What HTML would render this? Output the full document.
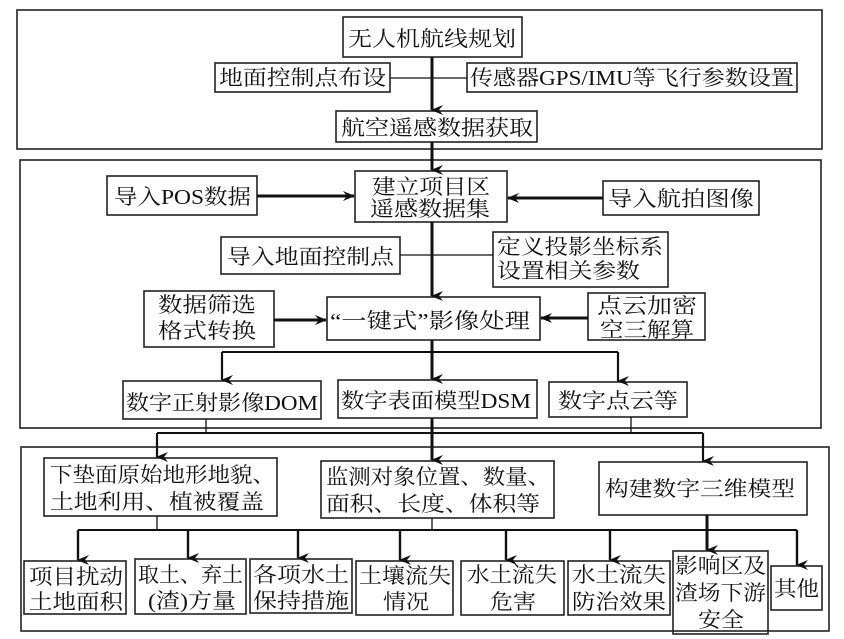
<!DOCTYPE html>
<html><head><meta charset="utf-8"><style>
html,body{margin:0;padding:0;background:#fff;}
svg{display:block;}
text{font-family:"Liberation Serif","Noto Serif CJK SC",serif;font-size:21px;fill:#111;}
</style></head><body>
<svg width="844" height="639" viewBox="0 0 844 639" xmlns="http://www.w3.org/2000/svg">
<defs>
<marker id="a" markerWidth="10" markerHeight="12" refX="5" refY="11" orient="auto" markerUnits="userSpaceOnUse" viewBox="0 0 10 12">
<path d="M0,0 L5,12 L10,0 L5,4 Z" fill="#111"/></marker>
<marker id="h" markerWidth="12" markerHeight="10" refX="11" refY="5" orient="auto" markerUnits="userSpaceOnUse" viewBox="0 0 12 10">
<path d="M0,0 L12,5 L0,10 L4,5 Z" fill="#111"/></marker>
</defs>
<g fill="none" stroke="#222" stroke-width="1.6">
<rect x="17" y="10" width="805" height="139"/>
<rect x="20" y="160" width="801" height="268"/>
<rect x="21" y="447" width="808" height="184"/>
<rect x="343" y="17" width="179" height="40"/>
<rect x="215" y="63" width="175" height="29"/>
<rect x="467" y="63" width="330" height="29"/>
<rect x="336" y="111" width="201" height="31"/>
<rect x="107" y="176" width="150" height="39"/>
<rect x="355" y="171" width="152" height="51"/>
<rect x="603" y="181" width="156" height="34"/>
<rect x="221" y="237" width="179" height="37"/>
<rect x="493" y="232" width="175" height="55"/>
<rect x="144" y="291" width="130" height="56"/>
<rect x="327" y="297" width="213" height="43"/>
<rect x="588" y="293" width="117" height="47"/>
<rect x="123" y="381" width="198" height="38"/>
<rect x="338" y="380" width="199" height="38"/>
<rect x="549" y="382" width="138" height="35"/>
<rect x="44" y="458" width="233" height="58"/>
<rect x="321" y="461" width="233" height="57"/>
<rect x="599" y="462" width="208" height="53"/>
<rect x="24" y="561" width="102" height="53"/>
<rect x="135" y="559" width="111" height="55"/>
<rect x="250" y="559" width="102" height="54"/>
<rect x="356" y="561" width="97" height="54"/>
<rect x="461" y="561" width="103" height="54"/>
<rect x="568" y="561" width="102" height="54"/>
<rect x="673" y="551" width="95" height="83"/>
<rect x="771" y="566" width="51" height="44"/>
</g>
<g stroke="#111" fill="none">
<line x1="390" y1="78" x2="467" y2="78" stroke-width="1.3"/>
<line x1="432" y1="57" x2="432" y2="110" stroke-width="3" marker-end="url(#a)"/>
<line x1="432" y1="142" x2="432" y2="170" stroke-width="3" marker-end="url(#a)"/>
<line x1="257" y1="196" x2="354" y2="196" stroke-width="3" marker-end="url(#h)"/>
<line x1="603" y1="198" x2="508" y2="198" stroke-width="3" marker-end="url(#h)"/>
<line x1="400" y1="255" x2="493" y2="255" stroke-width="1.3"/>
<line x1="432" y1="222" x2="432" y2="296" stroke-width="3" marker-end="url(#a)"/>
<line x1="274" y1="320" x2="326" y2="320" stroke-width="3" marker-end="url(#h)"/>
<line x1="588" y1="318" x2="541" y2="318" stroke-width="3" marker-end="url(#h)"/>
<line x1="432" y1="340" x2="432" y2="379" stroke-width="3" marker-end="url(#a)"/>
<line x1="222" y1="352" x2="618" y2="352" stroke-width="2"/>
<line x1="222" y1="352" x2="222" y2="380" stroke-width="2.2" marker-end="url(#a)"/>
<line x1="618" y1="352" x2="618" y2="381" stroke-width="2.2" marker-end="url(#a)"/>
<line x1="206" y1="419" x2="206" y2="433" stroke-width="1.3"/>
<line x1="631" y1="417" x2="631" y2="433" stroke-width="1.3"/>
<line x1="157" y1="433" x2="703" y2="433" stroke-width="2"/>
<line x1="157" y1="433" x2="157" y2="457" stroke-width="2.2" marker-end="url(#a)"/>
<line x1="432" y1="418" x2="432" y2="460" stroke-width="3" marker-end="url(#a)"/>
<line x1="703" y1="433" x2="703" y2="461" stroke-width="2.2" marker-end="url(#a)"/>
<line x1="157" y1="516" x2="157" y2="530" stroke-width="1.3"/>
<line x1="432" y1="518" x2="432" y2="530" stroke-width="1.3"/>
<line x1="707" y1="515" x2="707" y2="550" stroke-width="3" marker-end="url(#a)"/>
<line x1="78" y1="530" x2="797" y2="530" stroke-width="2"/>
<g stroke-width="2.4">
<line x1="78" y1="530" x2="78" y2="560" marker-end="url(#a)"/>
<line x1="188" y1="530" x2="188" y2="558" marker-end="url(#a)"/>
<line x1="298" y1="530" x2="298" y2="558" marker-end="url(#a)"/>
<line x1="400" y1="530" x2="400" y2="560" marker-end="url(#a)"/>
<line x1="506" y1="530" x2="506" y2="560" marker-end="url(#a)"/>
<line x1="610" y1="530" x2="610" y2="560" marker-end="url(#a)"/>
<line x1="797" y1="530" x2="797" y2="565" marker-end="url(#a)"/>
</g>
</g>
<g lengthAdjust="spacingAndGlyphs">
<text x="348" y="46" textLength="168" lengthAdjust="spacingAndGlyphs">无人机航线规划</text>
<text x="219" y="85" textLength="167" lengthAdjust="spacingAndGlyphs">地面控制点布设</text>
<text x="470" y="85" textLength="324" lengthAdjust="spacingAndGlyphs">传感器GPS/IMU等飞行参数设置</text>
<text x="341" y="135" textLength="192" lengthAdjust="spacingAndGlyphs">航空遥感数据获取</text>
<text x="114" y="204" textLength="137" lengthAdjust="spacingAndGlyphs">导入POS数据</text>
<text x="372" y="194" textLength="118" lengthAdjust="spacingAndGlyphs">建立项目区</text>
<text x="370" y="216" textLength="120" lengthAdjust="spacingAndGlyphs">遥感数据集</text>
<text x="608" y="206" textLength="146" lengthAdjust="spacingAndGlyphs">导入航拍图像</text>
<text x="227" y="264" textLength="167" lengthAdjust="spacingAndGlyphs">导入地面控制点</text>
<text x="497" y="254" textLength="166" lengthAdjust="spacingAndGlyphs">定义投影坐标系</text>
<text x="497" y="278" textLength="143" lengthAdjust="spacingAndGlyphs">设置相关参数</text>
<text x="158" y="312" textLength="98" lengthAdjust="spacingAndGlyphs">数据筛选</text>
<text x="158" y="338" textLength="98" lengthAdjust="spacingAndGlyphs">格式转换</text>
<text x="330" y="328" textLength="200" lengthAdjust="spacingAndGlyphs">“一键式”影像处理</text>
<text x="597" y="313" textLength="100" lengthAdjust="spacingAndGlyphs">点云加密</text>
<text x="600" y="337" textLength="94" lengthAdjust="spacingAndGlyphs">空三解算</text>
<text x="126" y="410" textLength="192" lengthAdjust="spacingAndGlyphs">数字正射影像DOM</text>
<text x="341" y="408" textLength="190" lengthAdjust="spacingAndGlyphs">数字表面模型DSM</text>
<text x="558" y="408" textLength="120" lengthAdjust="spacingAndGlyphs">数字点云等</text>
<text x="50" y="482" textLength="225" lengthAdjust="spacingAndGlyphs">下垫面原始地形地貌、</text>
<text x="50" y="509" textLength="214" lengthAdjust="spacingAndGlyphs">土地利用、植被覆盖</text>
<text x="326" y="484" textLength="224" lengthAdjust="spacingAndGlyphs">监测对象位置、数量、</text>
<text x="326" y="511" textLength="214" lengthAdjust="spacingAndGlyphs">面积、长度、体积等</text>
<text x="605" y="496" textLength="190" lengthAdjust="spacingAndGlyphs">构建数字三维模型</text>
<text x="29" y="584" textLength="94" lengthAdjust="spacingAndGlyphs">项目扰动</text>
<text x="29" y="609" textLength="94" lengthAdjust="spacingAndGlyphs">土地面积</text>
<text x="138" y="582" textLength="105" lengthAdjust="spacingAndGlyphs">取土、弃土</text>
<text x="148" y="608" textLength="88" lengthAdjust="spacingAndGlyphs">(渣)方量</text>
<text x="253" y="582" textLength="96" lengthAdjust="spacingAndGlyphs">各项水土</text>
<text x="253" y="608" textLength="96" lengthAdjust="spacingAndGlyphs">保持措施</text>
<text x="359" y="583" textLength="92" lengthAdjust="spacingAndGlyphs">土壤流失</text>
<text x="383" y="609" textLength="46" lengthAdjust="spacingAndGlyphs">情况</text>
<text x="467" y="582" textLength="90" lengthAdjust="spacingAndGlyphs">水土流失</text>
<text x="490" y="609" textLength="46" lengthAdjust="spacingAndGlyphs">危害</text>
<text x="572" y="582" textLength="94" lengthAdjust="spacingAndGlyphs">水土流失</text>
<text x="572" y="609" textLength="94" lengthAdjust="spacingAndGlyphs">防治效果</text>
<text x="675" y="573" textLength="91" lengthAdjust="spacingAndGlyphs">影响区及</text>
<text x="675" y="600" textLength="91" lengthAdjust="spacingAndGlyphs">渣场下游</text>
<text x="698" y="627" textLength="46" lengthAdjust="spacingAndGlyphs">安全</text>
<text x="774" y="596" textLength="45" lengthAdjust="spacingAndGlyphs">其他</text>
</g>
</svg>
</body></html>
